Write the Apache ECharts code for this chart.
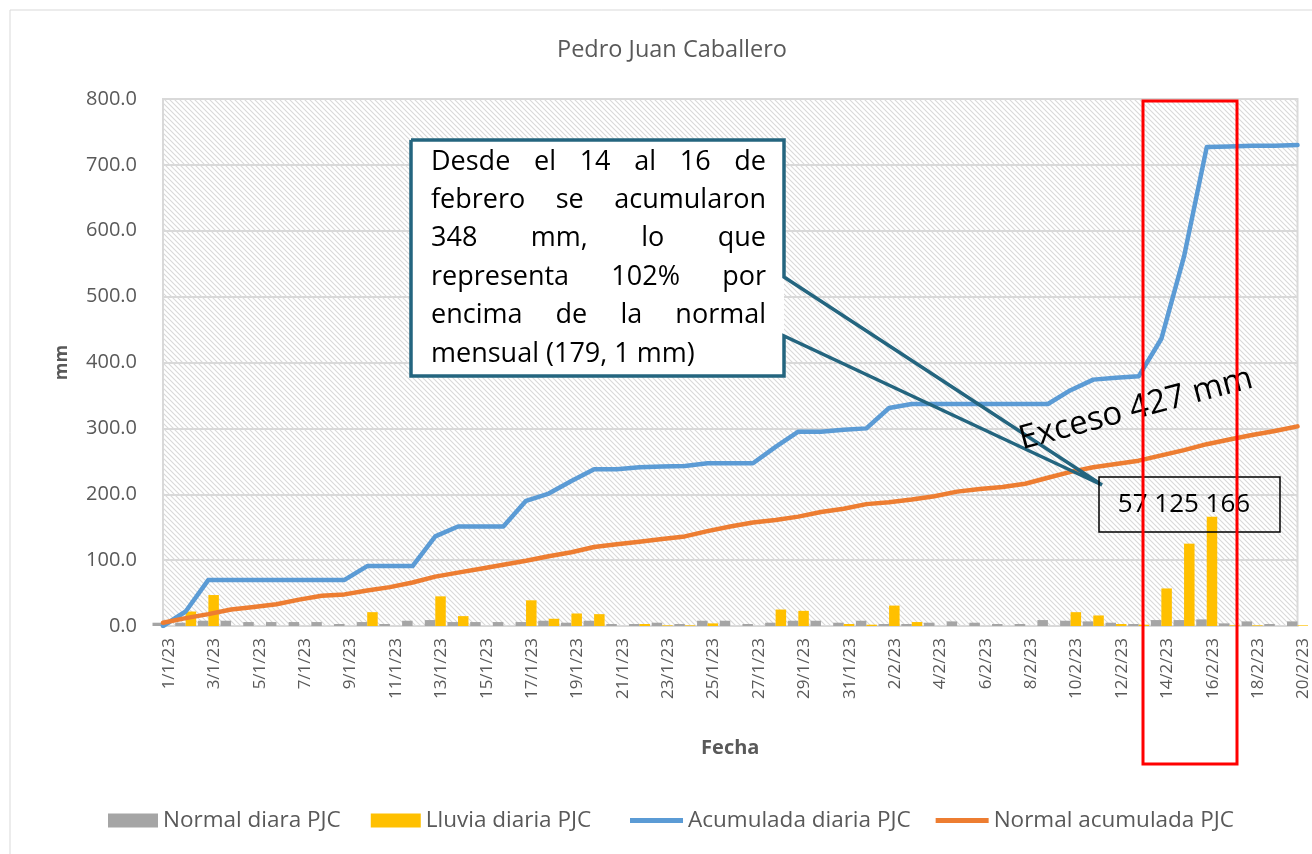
<!DOCTYPE html>
<html><head><meta charset="utf-8">
<script src="https://cdn.jsdelivr.net/npm/echarts@6/dist/echarts.min.js"></script>
<style>html,body{margin:0;padding:0;background:#fff}#c{width:1312px;height:854px}</style>
</head><body><div id="c"></div>
<script>
const categories = ['1/1/23','2/1/23','3/1/23','4/1/23','5/1/23','6/1/23','7/1/23','8/1/23','9/1/23','10/1/23',
 '11/1/23','12/1/23','13/1/23','14/1/23','15/1/23','16/1/23','17/1/23','18/1/23','19/1/23','20/1/23',
 '21/1/23','22/1/23','23/1/23','24/1/23','25/1/23','26/1/23','27/1/23','28/1/23','29/1/23','30/1/23','31/1/23',
 '1/2/23','2/2/23','3/2/23','4/2/23','5/2/23','6/2/23','7/2/23','8/2/23','9/2/23','10/2/23',
 '11/2/23','12/2/23','13/2/23','14/2/23','15/2/23','16/2/23','17/2/23','18/2/23','19/2/23','20/2/23'];
const normalDiaria = [5,5,8,8,6,6,6,6,3,6, 3,8,9,6,6,6,6,8,5,8, 3,3,5,3,8,8,3,5,8,8,5, 8,3,3,5,7,5,3,3,9,8, 7,5,3,9,9,10,4,7,3,7];
const lluviaDiaria = [0,22,47,0,0,0,0,0,0,21, 0,0,45,15,0,0,39,11,19,18, 0,3,1,1,4,0,0,25,23,0,3, 2,31,6,0,0,0,0,0,0,21, 16,3,2,57,125,166,1,1,0,1];
const acumuladaDiaria = [0,22,70,70,70,70,70,70,70,91, 91,91,136,151,151,151,190,201,220,238, 238,241,242,243,247,247,247,272,295,295,298, 300,331,337,337,337,337,337,337,337,358, 374,377,379,436,561,727,728,729,729,730];
const normalAcumulada = [5,12,18,25,29,33,40,46,48,54, 59,66,75,81,87,93,99,106,112,120, 124,128,132,136,144,151,157,161,166,173,178, 185,188,192,197,204,208,211,216,225,234, 241,246,251,259,267,276,283,290,296,303];
const seriesNames = ['Normal diara PJC','Lluvia diaria PJC','Acumulada diaria PJC','Normal acumulada PJC'];
const calloutLines = ['Desde el 14 al 16 de','febrero se acumularon','348 mm, lo que','representa 102% por','encima de la normal','mensual (179, 1 mm)'];
const boxLabel = '57 125 166';
const excesoLabel = 'Exceso 427 mm';

const FONT = "'Open Sans', 'Noto Sans', sans-serif";
const GREY = '#595959';

function hatch(){
  const s = 5;
  const c = document.createElement('canvas'); c.width = s; c.height = s;
  const x = c.getContext('2d');
  x.fillStyle = '#ffffff'; x.fillRect(0,0,s,s);
  x.strokeStyle = '#d9d9d9'; x.lineWidth = 1.1;
  x.beginPath();
  x.moveTo(-1,-1); x.lineTo(s+1,s+1);
  x.moveTo(-1,s-1); x.lineTo(1,s+1);
  x.moveTo(s-1,-1); x.lineTo(s+1,1);
  x.stroke();
  return c;
}

const chart = echarts.init(document.getElementById('c'), null, {renderer:'canvas'});

// justified callout text
const mctx = document.createElement('canvas').getContext('2d');
const cFontSize = 27;
mctx.font = cFontSize + 'px "Open Sans"';
const textLeft = 431, textRight = 766, line0 = 162, lineH = 38.4;
const textEls = [];
calloutLines.forEach((ln, i) => {
  const y = line0 + i * lineH;
  const words = ln.split(' ');
  if (i === calloutLines.length - 1) {
    textEls.push({type:'text', z:101, x:textLeft, y:y, style:{text:ln, font: cFontSize + 'px ' + FONT, fill:'#000', textAlign:'left', textVerticalAlign:'middle'}});
    return;
  }
  const widths = words.map(w => mctx.measureText(w).width);
  const total = widths.reduce((a,b)=>a+b,0);
  const gap = (textRight - textLeft - total) / (words.length - 1);
  let x = textLeft;
  words.forEach((w, k) => {
    textEls.push({type:'text', z:101, x:x, y:y, style:{text:w, font: cFontSize + 'px ' + FONT, fill:'#000', textAlign:'left', textVerticalAlign:'middle'}});
    x += widths[k] + gap;
  });
});

const legendText = {fontFamily: FONT, fontSize: 22.5, color: GREY};

const option = {
  animation: false,
  backgroundColor: '#ffffff',
  title: {
    text: 'Pedro Juan Caballero', left: 667, top: 33, textAlign: 'center',
    textStyle: {fontFamily: FONT, fontSize: 23.5, fontWeight: 'normal', color: GREY}
  },
  legend: [
    {
      left: 103, top: 804, itemWidth: 50, itemHeight: 14, itemGap: 30, icon: 'rect',
      data: [seriesNames[0], seriesNames[1]],
      textStyle: legendText
    },
    {
      left: 625, top: 804, itemWidth: 53, itemHeight: 5, itemGap: 25, icon: 'rect',
      data: [seriesNames[2], seriesNames[3]],
      textStyle: legendText
    }
  ],
  grid: {
    left: 163, top: 99, width: 1137, height: 527, show: true,
    backgroundColor: {image: hatch(), repeat: 'repeat'},
    borderColor: '#d9d9d9', borderWidth: 2
  },
  xAxis: {
    type: 'category', data: categories, boundaryGap: false,
    name: 'Fecha', nameLocation: 'middle', nameGap: 112,
    nameTextStyle: {fontFamily: FONT, fontSize: 20, fontWeight: 'bold', color: GREY},
    axisLine: {lineStyle: {color: '#d9d9d9', width: 2}},
    axisTick: {show: false},
    axisLabel: {interval: 1, rotate: 90, fontFamily: FONT, fontSize: 17, color: GREY, margin: 12,
      verticalAlign: 'top', lineHeight: 12},
    splitLine: {show: false}
  },
  yAxis: {
    type: 'value', min: 0, max: 800, interval: 100,
    name: 'mm', nameLocation: 'middle', nameGap: 92,
    nameTextStyle: {fontFamily: FONT, fontSize: 18, fontWeight: 'bold', color: GREY},
    axisLine: {show: true, lineStyle: {color: '#d9d9d9', width: 2}},
    axisTick: {show: false},
    axisLabel: {formatter: v => v.toFixed(1), fontFamily: FONT, fontSize: 20, color: GREY, margin: 26},
    splitLine: {lineStyle: {color: '#d9d9d9', width: 2}}
  },
  series: [
    {name: seriesNames[0], type: 'bar', data: normalDiaria, barWidth: 10.5, barGap: '0%', itemStyle: {color: '#a5a5a5'}},
    {name: seriesNames[1], type: 'bar', data: lluviaDiaria, barWidth: 10.5, barGap: '0%', itemStyle: {color: '#ffc000'}},
    {name: seriesNames[2], type: 'line', data: acumuladaDiaria, symbol: 'none', z: 3,
      lineStyle: {color: '#5b9bd5', width: 4.5, cap: 'round', join: 'round'}, itemStyle: {color: '#5b9bd5'}},
    {name: seriesNames[3], type: 'line', data: normalAcumulada, symbol: 'none', z: 3,
      lineStyle: {color: '#ed7d31', width: 4.5, cap: 'round', join: 'round'}, itemStyle: {color: '#ed7d31'}}
  ],
  graphic: [
    {type:'rect', z:99, shape:{x:10, y:10, width:1320, height:880}, style:{fill:null, stroke:'#d9d9d9', lineWidth:1}},
    {type:'rect', z:100, shape:{x:411, y:140, width:373, height:236}, style:{fill:'#ffffff'}},
    {type:'polyline', z:101, shape:{points:[[411,140],[784,140],[784,277],[1102,485],[784,336],[784,376],[411,376],[411,140]]},
      style:{fill:null, stroke:'#24657f', lineWidth:3.5, lineJoin:'miter'}},
    ...textEls,
    {type:'rect', z:102, shape:{x:1099, y:477, width:181, height:55}, style:{fill:null, stroke:'#000', lineWidth:1.5}},
    {type:'text', z:103, x:1184, y:505, style:{text:boxLabel, font:'26px ' + FONT, fill:'#000', textAlign:'center', textVerticalAlign:'middle'}},
    {type:'text', z:103, x:1136, y:409, rotation: 15*Math.PI/180, style:{text:excesoLabel, font:'33px ' + FONT, fill:'#000', textAlign:'center', textVerticalAlign:'middle'}},
    {type:'rect', z:104, shape:{x:1143, y:101, width:94, height:663}, style:{fill:null, stroke:'#ff0000', lineWidth:3}}
  ]
};
chart.setOption(option);
</script>
</body></html>
